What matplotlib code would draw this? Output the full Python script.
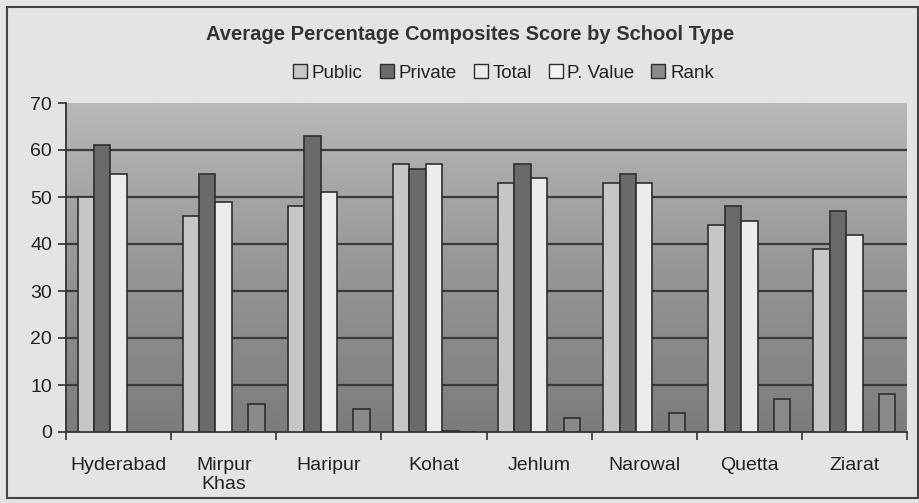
import matplotlib.pyplot as plt
import matplotlib.patches as mpatches
from matplotlib.colors import LinearSegmentedColormap
import numpy as np

plt.rcParams['font.family'] = ['Liberation Sans Narrow', 'Liberation Sans', 'DejaVu Sans']

# %%
cities = ['Hyderabad', 'Mirpur\nKhas', 'Haripur', 'Kohat', 'Jehlum', 'Narowal', 'Quetta', 'Ziarat']
public = [50, 46, 48, 57, 53, 53, 44, 39]
private = [61, 55, 63, 56, 57, 55, 48, 47]
total = [55, 49, 51, 57, 54, 53, 45, 42]
p_value = [0, 0, 0, 0.3, 0, 0, 0, 0]
rank = [0, 6, 5, 0, 3, 4, 7, 8]

series = [('Public', public, '#c6c6c6'),
          ('Private', private, '#6a6a6a'),
          ('Total', total, '#ececec'),
          ('P. Value', p_value, '#f4f4f4'),
          ('Rank', rank, '#8a8a8a')]

# %%
fig = plt.figure(figsize=(9.19, 5.03), dpi=100)
fig.patch.set_facecolor('#e4e4e2')
ax = fig.add_axes([66 / 919, 71 / 503, 841 / 919, 329 / 503])

# gradient background of the plot area
bg = LinearSegmentedColormap.from_list('bg', ['#b8b8b8', '#969696', '#7c7c7c'])
grad = np.linspace(0, 1, 256).reshape(-1, 1)
ax.imshow(grad, extent=[0, len(cities), 0, 70], aspect='auto', cmap=bg,
          origin='upper', zorder=0)

for v in range(10, 70, 10):
    ax.axhline(v, color='#3a3a3a', lw=1.6, zorder=1)

x = np.arange(len(cities))
w = 0.156
for i, (name, vals, col) in enumerate(series):
    ax.bar(x + 0.5 + (i - 2) * w, vals, w, color=col, edgecolor='#2e2e2e',
           linewidth=1.2, zorder=3, label=name)

ax.set_xlim(0, len(cities))
ax.set_ylim(0, 70)
ax.set_yticks(range(0, 71, 10))
ax.set_xticks(np.arange(len(cities) + 1))
ax.set_xticklabels([])
ax.set_xticks(x + 0.5, minor=True)
ax.set_xticklabels(cities, minor=True, fontsize=14, color='#222222', linespacing=1.15)
ax.tick_params(axis='x', which='minor', length=0, pad=18)
ax.tick_params(axis='x', which='major', length=6, width=1.2, color='#333333', direction='out')
ax.tick_params(axis='y', length=6, width=1.2, color='#333333', labelsize=14,
               labelcolor='#222222', pad=4)
for s in ['top', 'right']:
    ax.spines[s].set_visible(False)
ax.spines['left'].set_color('#333333')
ax.spines['bottom'].set_color('#333333')
ax.spines['left'].set_linewidth(1.3)
ax.spines['bottom'].set_linewidth(1.3)

fig.text(0.512, 1 - 35 / 503, 'Average Percentage Composites Score by School Type',
         ha='center', va='center', fontsize=14.5, fontweight='bold', color='#333333')

handles = [mpatches.Patch(facecolor=c, edgecolor='#2e2e2e', label=n) for n, _, c in series]
fig.legend(handles=handles, loc='center', bbox_to_anchor=(0.548, 1 - 73 / 503), ncol=5,
           frameon=False, fontsize=13.5, handlelength=0.75, handleheight=0.75,
           handletextpad=0.25, columnspacing=0.9, labelcolor='#222222')

# outer frame
fig.add_artist(mpatches.Rectangle((7 / 919, 5 / 503), 911 / 919, 491 / 503,
                                  transform=fig.transFigure, fill=False,
                                  edgecolor='#444444', lw=1.5))

fig.savefig('out.png', dpi=100, facecolor=fig.get_facecolor())
